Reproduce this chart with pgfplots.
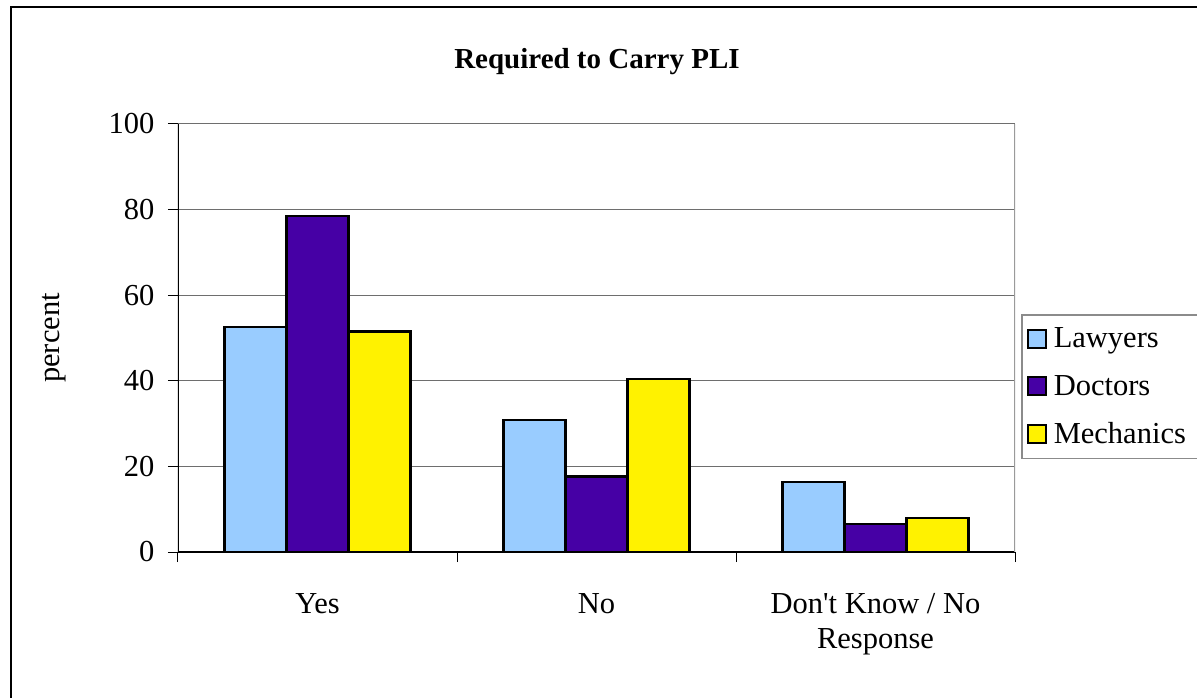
\documentclass[border=0pt]{standalone}
\usepackage{fontspec}
\setmainfont{Liberation Serif}
\usepackage{pgfplots}
\pgfplotsset{compat=1.18}
\definecolor{lawyers}{HTML}{99CCFF}
\definecolor{doctors}{HTML}{4600A5}
\definecolor{mechanics}{HTML}{FFF200}
\definecolor{gridgray}{HTML}{6E6E6E}
\newcommand{\labelfont}{\fontsize{30.5}{35}\selectfont}
\begin{document}
\begin{tikzpicture}
\useasboundingbox (0pt,0pt) rectangle (1197pt,697pt);
% outer chart frame, right and bottom edges fall outside the page
\draw[line width=2pt] (11pt,-20pt) rectangle (1240pt,690pt);
\node[anchor=base, font=\fontsize{29}{34}\selectfont\bfseries] at (597pt,628pt) {Required to Carry PLI};
\begin{axis}[
    at={(178pt,145pt)}, anchor=south west,
    width=837pt, height=428pt, scale only axis,
    ybar=0pt, bar width=62pt,
    xmin=-0.5, xmax=2.5, ymin=0, ymax=100,
    xtick={0,1,2},
    xticklabels={Yes, No, {Don\textquotesingle t Know / No\\Response}},
    minor xtick={-0.5,0.5,1.5,2.5},
    ytick={0,20,...,100},
    tick pos=left,
    ymajorgrids,
    major grid style={gridgray, line width=1pt},
    tick align=outside,
    major tick length=10pt, minor tick length=10pt,
    tick style={black, line width=1pt},
    major x tick style={draw=none},
    axis line style={draw=none},
    xticklabel style={align=center, font=\labelfont, yshift=-28pt},
    yticklabel style={font=\labelfont, xshift=-10pt},
    /pgf/number format/assume math mode=true,
    ylabel={percent},
    ylabel style={font=\labelfont, at={(axis description cs:-0.1475,0.5)}, anchor=center},
    legend style={at={(axis description cs:1.0072,0.556)}, anchor=north west,
        draw=gridgray!80, line width=1.5pt, font=\labelfont,
        nodes={inner ysep=0pt, inner xsep=7pt}, row sep=26pt,
        inner xsep=5pt, inner ysep=13pt},
    legend cell align=left,
    legend image code/.code={\draw[#1, line width=2pt, draw=black] (0pt,-9pt) rectangle (18pt,9pt);},
]
\addplot[fill=lawyers, draw=black, line width=2.5pt] coordinates {(0,52.6) (1,30.8) (2,16.4)};
\addplot[fill=doctors, draw=black, line width=2.5pt] coordinates {(0,78.5) (1,17.6) (2,6.5)};
\addplot[fill=mechanics, draw=black, line width=2.5pt] coordinates {(0,51.5) (1,40.4) (2,8.0)};
\legend{Lawyers, Doctors, Mechanics}
\draw[black, line width=1.5pt] (rel axis cs:0,1) -- (rel axis cs:0,0) -- (rel axis cs:1,0);
\draw[gridgray!70, line width=2pt] (rel axis cs:1,0) -- (rel axis cs:1,1);
\end{axis}
\end{tikzpicture}
\end{document}
